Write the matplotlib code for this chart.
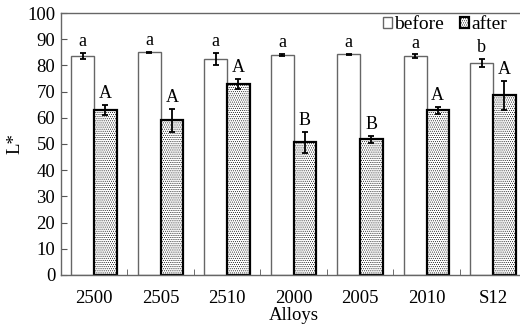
import numpy as np
import matplotlib.pyplot as plt
from matplotlib.ticker import FixedLocator

plt.rcParams['font.family'] = ['Liberation Serif', 'DejaVu Serif']
plt.rcParams['hatch.color'] = '#bbbbbb'
plt.rcParams['hatch.linewidth'] = 0.4

alloys = ['2500', '2505', '2510', '2000', '2005', '2010', 'S12']
before = [83.6, 85.0, 82.4, 84.1, 84.2, 83.5, 80.9]
before_err = [1.3, 0.3, 2.3, 0.3, 0.3, 0.7, 1.6]
after = [63.1, 59.1, 72.9, 50.7, 51.8, 62.8, 68.6]
after_err = [1.9, 4.4, 2.0, 4.0, 1.4, 1.5, 5.6]
before_letters = ['a', 'a', 'a', 'a', 'a', 'a', 'b']
after_letters = ['A', 'A', 'A', 'B', 'B', 'A', 'A']

fig = plt.figure(figsize=(5.2, 3.28), dpi=100)
ax = fig.add_axes([0.117, 0.162, 0.895, 0.798])

x = np.arange(len(alloys))
w = 0.34
ekw = dict(ecolor='black', elinewidth=1.3, capsize=2.5, capthick=1.3)
ax.bar(x - w / 2, before, w, color='white', edgecolor='#666666', linewidth=1.0,
       yerr=before_err, error_kw=ekw, label='before')
ax.bar(x + w / 2, after, w, color='white', edgecolor='black', linewidth=1.6, hatch='........',
       yerr=after_err, error_kw=ekw, label='after')

for i in range(len(alloys)):
    ax.annotate(before_letters[i], (x[i] - w / 2, before[i] + before_err[i]),
                xytext=(0, 2), textcoords='offset points', ha='center', va='bottom', fontsize=13)
    ax.annotate(after_letters[i], (x[i] + w / 2, after[i] + after_err[i]),
                xytext=(0, 2), textcoords='offset points', ha='center', va='bottom', fontsize=13)

ax.set_xlim(-0.5, len(alloys) - 0.5)
ax.set_ylim(0, 100)
ax.set_yticks(range(0, 101, 10))
ax.set_xticks(x)
ax.set_xticklabels(alloys)
ax.xaxis.set_minor_locator(FixedLocator(np.arange(0.5, len(alloys) - 0.5, 1)))
ax.tick_params(axis='x', which='major', length=0, pad=11, labelsize=13.5)
ax.tick_params(axis='x', which='minor', direction='in', length=4, color='#555555')
ax.tick_params(axis='y', direction='in', length=4, labelsize=13.5, color='#555555', pad=4)

for s in ['left', 'bottom', 'top']:
    ax.spines[s].set_color('#666666')
    ax.spines[s].set_linewidth(1.0)
ax.spines['right'].set_visible(False)

ax.set_xlabel('Alloys', fontsize=13.5, labelpad=0)
ax.set_ylabel('L*', fontsize=13.5, labelpad=3)

ax.legend(loc='upper right', bbox_to_anchor=(0.965, 1.0), borderaxespad=0.0, borderpad=0.15,
          ncol=2, frameon=False, fontsize=14, handlelength=0.5, handleheight=0.5,
          handletextpad=0.1, columnspacing=0.8)

fig.savefig('out.png', dpi=100)
